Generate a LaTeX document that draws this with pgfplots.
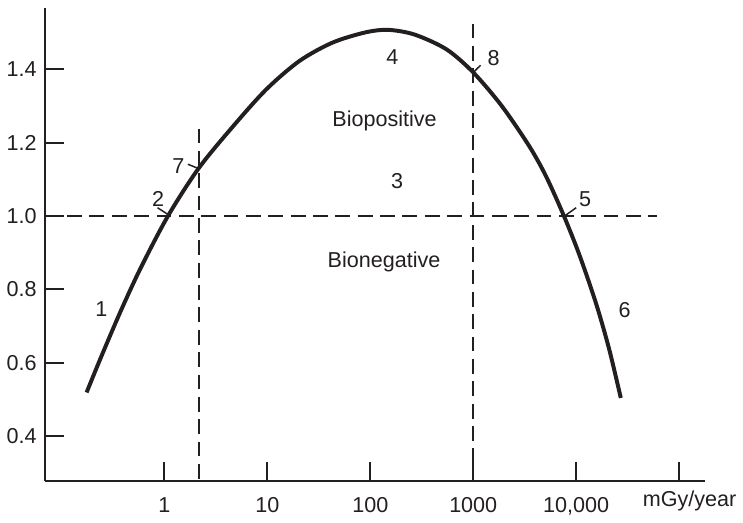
\documentclass[border=0pt]{standalone}
\usepackage{fontspec}
\setmainfont{Liberation Sans}
\usepackage{pgfplots}
\pgfplotsset{compat=1.18}

\definecolor{ink}{HTML}{231F20}

\begin{document}
\begin{tikzpicture}[font=\fontsize{10.9}{13}\selectfont]
\begin{axis}[
    scale only axis,
    width=333.65pt,
    height=238.85pt,
    xmode=log,
    xmin=0.0690, xmax=177500,
    ymin=0.2784, ymax=1.566,
    axis x line*=bottom,
    axis y line*=left,
    axis line style={ink, line width=1pt},
    tick style={ink, line width=1pt},
    tick align=inside,
    major tick length=9.5pt,
    xminorticks=false,
    xtick={1,10,100,1000,10000,100000},
    xticklabels={1,10,100,1000,{10,000},{}},
    ytick={0.4,0.6,0.8,1.0,1.2,1.4},
    yticklabels={0.4,0.6,0.8,1.0,1.2,1.4},
    xticklabel style={text=ink, yshift=-5pt},
    yticklabel style={text=ink, xshift=-0.6pt},
    clip=false,
]
\coordinate (O) at (rel axis cs:0,0);

% reference lines
\addplot[ink, line width=1pt, dash pattern=on 7.5pt off 3.8pt] coordinates {(0.0690,1.0) (60950,1.0)};
\addplot[ink, line width=1pt, dash pattern=on 7.5pt off 3.8pt] coordinates {(2.158,1.238) (2.158,0.2784)};
\addplot[ink, line width=1pt, dash pattern=on 7.5pt off 3.8pt] coordinates {(1000,1.524) (1000,0.2784)};

% dose-response curve
\addplot[ink, line width=2pt, smooth] coordinates {
    (0.1759,0.519) (0.2452,0.618) (0.3817,0.744) (0.594,0.860)
    (1.086,1.0) (2.158,1.130) (4.677,1.245) (9.795,1.345)
    (20.46,1.422) (42.76,1.472) (89.33,1.500) (149.6,1.507)
    (270.4,1.494) (549.5,1.454) (1000,1.391) (1888,1.300)
    (3483,1.191) (5093,1.108) (7568,1.001) (10765,0.893)
    (15600,0.761) (20893,0.637) (27100,0.504)
};

% leader ticks
\addplot[ink, line width=0.75pt] coordinates {(0.859,1.0224) (1.086,1.004)};
\addplot[ink, line width=0.75pt] coordinates {(1.69,1.141) (2.11,1.130)};
\addplot[ink, line width=0.75pt] coordinates {(1178,1.4105) (1000,1.391)};
\addplot[ink, line width=0.75pt] coordinates {(10000,1.0224) (7727,1.0)};

% labels
\node[text=ink] at (axis cs:0.245,0.746) {1};
\node[text=ink] at (axis cs:0.871,1.045) {2};
\node[text=ink] at (axis cs:1.367,1.135) {7};
\node[text=ink] at (axis cs:163.7,1.432) {4};
\node[text=ink] at (axis cs:137.7,1.26) {Biopositive};
\node[text=ink] at (axis cs:182.8,1.096) {3};
\node[text=ink] at (axis cs:136.2,0.876) {Bionegative};
\node[text=ink] at (axis cs:1581,1.431) {8};
\node[text=ink] at (axis cs:12220,1.047) {5};
\node[text=ink] at (axis cs:29580,0.744) {6};
\node[text=ink, anchor=base] at ([yshift=-12.85pt]rel axis cs:0.977,0) {mGy/year};
\end{axis}
\path (O) ++(-21.35pt,-16pt) rectangle ++(371.5pt,259pt);
\end{tikzpicture}
\end{document}
